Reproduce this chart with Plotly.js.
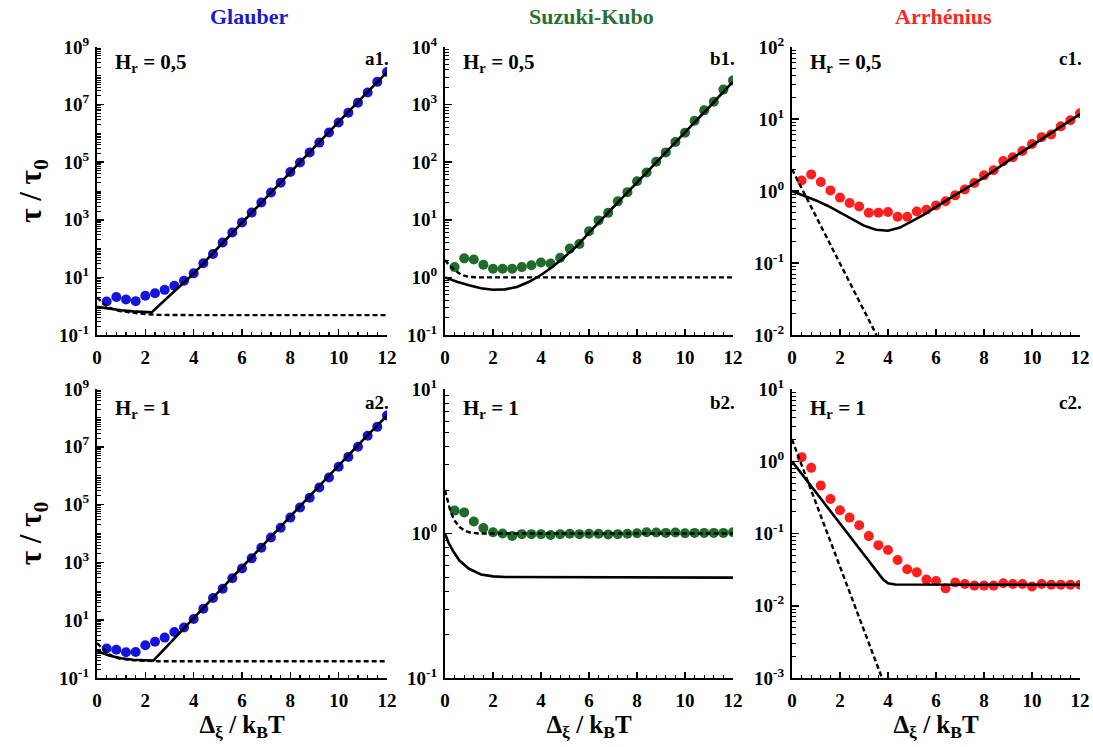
<!DOCTYPE html>
<html>
<head>
<meta charset="utf-8">
<script src="https://cdn.plot.ly/plotly-3.0.1.min.js"></script>
<style>html,body{margin:0;padding:0;background:#fff;}#chart{width:1093px;height:747px;}</style>
</head>
<body>
<div id="chart"></div>
<script>
// ---------- data ----------
const columnTitles = ['Glauber', 'Suzuki-Kubo', 'Arrhénius'];
const panelTags = ['a1.', 'b1.', 'c1.', 'a2.', 'b2.', 'c2.'];
const fieldLabels = ['H<sub>r</sub> = 0,5', 'H<sub>r</sub> = 1'];

// simulation points (Δξ/kBT)
const xDots = [0.4,0.8,1.2,1.6,2.0,2.4,2.8,3.2,3.6,4.0,4.4,4.8,5.2,5.6,6.0,6.4,6.8,7.2,7.6,8.0,8.4,8.8,9.2,9.6,10.0,10.4,10.8,11.2,11.6,12.0];

// Glauber, Hr = 0,5
const a1Dots = [1.45,2.1,1.7,1.5,2.3,2.8,3.7,5.1,7.6,13.8,31,65,162,363,813,1780,3980,8910,19500,45700,97700,219000,479000,1.07e6,2.4e6,5.25e6,1.17e7,2.63e7,6.17e7,1.35e8];
const a1SolidX = [0,0.5,1,1.5,2,2.26,3,3.5,4,5,6,7,8,9,10,11,12];
const a1SolidY = [0.95,0.82,0.72,0.66,0.62,0.61,2.3,5.6,13.5,105,800,6000,45000,3.3e5,2.5e6,1.85e7,1.35e8];
const a1DashX = [0,0.15,0.3,0.5,0.75,1,1.5,2,2.5,3,4,12];
const a1DashY = [2.0,1.5,1.15,0.9,0.75,0.67,0.58,0.53,0.5,0.49,0.49,0.49];

// Suzuki-Kubo, Hr = 0,5
const b1Dots = [1.51,2.14,2.04,1.66,1.41,1.41,1.41,1.51,1.62,1.82,1.74,2.19,3.16,3.8,6.31,9.77,13.2,20.9,30.2,46.8,66.1,102,148,224,324,525,794,1120,1820,2630];
const b1SolidX = [0,0.5,1,1.5,2,2.5,3,3.5,4,4.5,5,5.5,6,7,8,9,10,11,12];
const b1SolidY = [1.0,0.84,0.73,0.65,0.61,0.62,0.68,0.84,1.1,1.55,2.3,3.5,6.0,16.5,45,122,330,900,2500];
const b1DashX = [0,0.2,0.4,0.6,0.8,1.0,1.4,12];
const b1DashY = [2.0,1.6,1.35,1.17,1.07,1.02,1.0,1.0];

// Arrhénius, Hr = 0,5
const c1Dots = [1.4,1.7,1.33,1.02,0.81,0.68,0.61,0.5,0.5,0.51,0.44,0.44,0.52,0.55,0.63,0.72,0.87,1.05,1.29,1.65,1.94,2.6,2.95,3.6,4.5,5.6,6.1,7.9,9.6,12.0];
const c1SolidX = [0,0.5,1,1.5,2,2.5,3,3.5,4,4.5,5,5.5,6,6.5,7,8,9,10,11,12];
const c1SolidY = [1.0,0.86,0.74,0.62,0.5,0.4,0.33,0.29,0.28,0.31,0.38,0.47,0.6,0.76,0.94,1.55,2.6,4.3,7.1,11.7];
const c1DashX = [0,3.52];
const c1DashY = [2.0,0.01];

// Glauber, Hr = 1
const a2Dots = [1.05,0.95,0.78,0.79,1.35,1.8,2.5,3.9,5.6,11,25,59,123,282,617,1380,3240,7240,15800,35500,79400,174000,389000,871000,2.04e6,4.47e6,1.0e7,2.4e7,4.9e7,1.2e8];
const a2SolidX = [0,0.5,1,1.5,2,2.33,3,3.5,4,5,6,7,8,9,10,11,12];
const a2SolidY = [0.85,0.6,0.48,0.43,0.41,0.4,1.55,4.2,11.5,90,680,5200,40000,3.0e5,2.25e6,1.7e7,1.2e8];
const a2DashX = [0,0.15,0.3,0.5,0.75,1,1.5,2,2.5,12];
const a2DashY = [1.6,1.2,0.9,0.66,0.52,0.46,0.41,0.39,0.38,0.38];

// Suzuki-Kubo, Hr = 1
const b2Dots = [1.44,1.4,1.21,1.09,1.02,1.0,0.96,0.99,0.99,0.99,0.977,0.99,0.995,0.99,0.995,0.995,0.985,0.99,0.995,1.005,1.02,1.015,1.01,1.015,1.005,1.01,1.01,1.01,1.01,1.02];
const b2SolidX = [0,0.15,0.35,0.6,1.0,1.5,2,2.5,12];
const b2SolidY = [1.0,0.86,0.75,0.65,0.57,0.52,0.505,0.5,0.495];
const b2DashX = [0,0.1,0.2,0.3,0.4,0.6,0.8,1.0,1.4,12];
const b2DashY = [2.0,1.7,1.48,1.33,1.23,1.11,1.05,1.02,1.0,1.0];

// Arrhénius, Hr = 1
const c2Dots = [1.14,0.81,0.46,0.3,0.21,0.166,0.13,0.092,0.069,0.059,0.043,0.032,0.029,0.023,0.022,0.0174,0.021,0.02,0.019,0.019,0.019,0.0205,0.02,0.02,0.0185,0.02,0.0195,0.0195,0.0195,0.0195];
const c2SolidX = [0,1,2,3,3.5,3.8,4.0,4.3,12];
const c2SolidY = [1.0,0.37,0.138,0.051,0.031,0.023,0.0205,0.0197,0.0195];
const c2DashX = [0,3.75];
const c2DashY = [2.0,0.001];

// axis ranges (log10 exponents) and labelled ticks
const yRanges = [[-1,9],[-1,4],[-2,2],[-1,9],[-1,1],[-3,1]];
const yTickExp = [[-1,1,3,5,7,9],[-1,0,1,2,3,4],[-2,-1,0,1,2],[-1,1,3,5,7,9],[-1,0,1],[-3,-2,-1,0,1]];

// ---------- styling ----------
const colColors = ['#1414dc', '#1f6b2a', '#ff1f1f'];
const titleColors = ['#1c1cc4', '#2a7034', '#f22a2a'];
const FONT = 'Liberation Serif, Times New Roman, serif';

const panels = [
  {dots:a1Dots, sx:a1SolidX, sy:a1SolidY, dx:a1DashX, dy:a1DashY},
  {dots:b1Dots, sx:b1SolidX, sy:b1SolidY, dx:b1DashX, dy:b1DashY},
  {dots:c1Dots, sx:c1SolidX, sy:c1SolidY, dx:c1DashX, dy:c1DashY},
  {dots:a2Dots, sx:a2SolidX, sy:a2SolidY, dx:a2DashX, dy:a2DashY},
  {dots:b2Dots, sx:b2SolidX, sy:b2SolidY, dx:b2DashX, dy:b2DashY},
  {dots:c2Dots, sx:c2SolidX, sy:c2SolidY, dx:c2DashX, dy:c2DashY}
];

const W = 1093, H = 747;
const colPx = [[97,387],[445,733],[792,1080]];
const rowPx = [[47,335],[389,678]];

const traces = [];
const layout = {
  width: W, height: H,
  margin: {l:0, r:0, t:0, b:0},
  paper_bgcolor: '#fff', plot_bgcolor: '#fff',
  showlegend: false,
  font: {family: FONT, color: '#000'},
  annotations: []
};

function expLabel(e) { return '10<sup>' + e + '</sup>'; }
// minor log tick positions (2..9 × 10^e, plus unlabelled decades)
function minorLogTicks(range, majors) {
  const out = [];
  for (let e = range[0]; e < range[1]; e++) {
    for (let d = 1; d <= 9; d++) {
      if (d === 1 && majors.indexOf(e) >= 0) continue;
      out.push(d * Math.pow(10, e));
    }
  }
  if (majors.indexOf(range[1]) < 0) out.push(Math.pow(10, range[1]));
  return out;
}

panels.forEach((p, i) => {
  const col = i % 3, row = Math.floor(i / 3);
  const n = i + 1;
  const xa = 'x' + (n === 1 ? '' : n), ya = 'y' + (n === 1 ? '' : n);
  traces.push({x: xDots, y: p.dots, xaxis: xa, yaxis: ya, type: 'scatter', mode: 'markers',
    marker: {color: colColors[col], size: 10, line: {width: 0}}});
  traces.push({x: p.dx, y: p.dy, xaxis: xa, yaxis: ya, type: 'scatter', mode: 'lines',
    line: {color: '#000', width: 2.4, dash: '5px,3px'}});
  traces.push({x: p.sx, y: p.sy, xaxis: xa, yaxis: ya, type: 'scatter', mode: 'lines',
    line: {color: '#000', width: 2.6}});

  const xd = [colPx[col][0] / W, colPx[col][1] / W];
  const yd = [1 - rowPx[row][1] / H, 1 - rowPx[row][0] / H];
  const tickfont = {family: FONT, size: 19, weight: 'bold', color: '#000'};
  layout['xaxis' + (n === 1 ? '' : n)] = {
    domain: xd, anchor: ya, range: [0, 12], tickmode: 'linear', tick0: 0, dtick: 2,
    ticks: 'inside', ticklen: 6, tickwidth: 1.5, tickcolor: '#000',
    minor: {tickmode: 'linear', dtick: 0.4, tick0: 0, ticks: 'inside', ticklen: 3, tickwidth: 1.2, tickcolor: '#000', showgrid: false},
    showline: true, linecolor: '#000', linewidth: 2, showgrid: false, zeroline: false,
    tickfont: tickfont, ticklabelstandoff: 4,
    title: row === 1 ? {text: 'Δ<sub>ξ</sub> / k<sub>B</sub>T', font: {family: FONT, size: 25, weight: 'bold', color: '#000'}, standoff: 2} : {text: ''}
  };
  const ex = yTickExp[i];
  layout['yaxis' + (n === 1 ? '' : n)] = {
    domain: yd, anchor: xa, type: 'log', range: yRanges[i],
    tickmode: 'array', tickvals: ex.map(e => Math.pow(10, e)), ticktext: ex.map(expLabel),
    ticks: 'inside', ticklen: 7, tickwidth: 1.5, tickcolor: '#000',
    minor: {tickmode: 'array', tickvals: minorLogTicks(yRanges[i], ex), ticks: 'inside', ticklen: 3.5, tickwidth: 1, tickcolor: '#000', showgrid: false},
    showline: true, linecolor: '#000', linewidth: 2, showgrid: false, zeroline: false,
    tickfont: tickfont, ticklabelstandoff: 2,
    title: col === 0 ? {text: 'τ / τ<sub>0</sub>', font: {family: FONT, size: 31, weight: 'bold', color: '#000'}, standoff: 8} : {text: ''}
  };

  // panel tag (a1., b1., ...)
  layout.annotations.push({xref: 'paper', yref: 'paper', x: (colPx[col][1] + 4) / W, y: 1 - (rowPx[row][0] - 1 + (row === 0 ? 0 : 2)) / H,
    xanchor: 'right', yanchor: 'top', text: panelTags[i], showarrow: false,
    font: {family: FONT, size: 19, weight: 'bold', color: '#000'}});
  // field label (Hr = ...)
  layout.annotations.push({xref: 'paper', yref: 'paper', x: (colPx[col][0] + 16) / W, y: 1 - (rowPx[row][0] + (row === 0 ? 1 : 5)) / H,
    xanchor: 'left', yanchor: 'top', text: fieldLabels[row], showarrow: false,
    font: {family: FONT, size: 21, weight: 'bold', color: '#000'}});
});

// column titles
const titleCenters = [249, 591, 943];
columnTitles.forEach((t, c) => {
  layout.annotations.push({xref: 'paper', yref: 'paper', x: titleCenters[c] / W, y: 1 - 17 / H,
    xanchor: 'center', yanchor: 'middle', text: t, showarrow: false,
    font: {family: FONT, size: 22, weight: 'bold', color: titleColors[c]}});
});

Plotly.newPlot('chart', traces, layout, {displayModeBar: false, staticPlot: true});
</script>
</body>
</html>
